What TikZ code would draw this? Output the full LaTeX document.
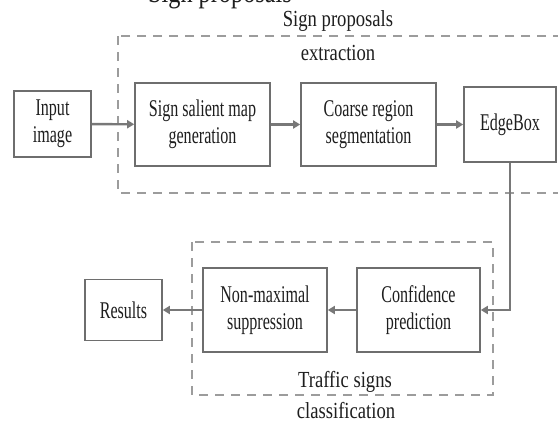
\documentclass[tikz,border=0pt]{standalone}
\usepackage{fontspec}
\setmainfont{Liberation Serif}
\newfontfamily\boxfont{Liberation Serif}[FakeStretch=0.67]
\newfontfamily\titlefont{Liberation Serif}[FakeStretch=0.81]
\usetikzlibrary{arrows.meta}
\definecolor{boxline}{HTML}{6E6E6E}
\definecolor{arrowc}{HTML}{787878}
\definecolor{dashc}{HTML}{9C9C9C}
\definecolor{txt}{HTML}{1E1E1E}
\begin{document}
\begin{tikzpicture}[x=1pt,y=-1pt,
  stepbox/.style={draw=boxline, line width=1.6pt, inner sep=0pt, align=center,
    font=\boxfont\fontsize{24}{27}\selectfont, text=txt},
  flow/.style={draw=arrowc, line width=2.4pt, -{Triangle[length=7pt,width=8pt]}},
  group/.style={draw=dashc, line width=2.2pt, dash pattern=on 9pt off 7pt},
  title/.style={font=\titlefont\fontsize{23}{26}\selectfont, text=txt, inner sep=0pt, anchor=base}]
\clip (0,0) rectangle (558,423);
\fill[white] (0,0) rectangle (558,423);

% group frames
\draw[group] (118,36) rectangle (575,193);
\draw[group] (192,242) rectangle (493,395);

% ghost title at top edge
\node[title, font=\titlefont\fontsize{30}{32}\selectfont] (ghost) at (220,2.5) {Sign proposals};

% titles
\node[title] (t1a) at (338,27) {Sign proposals};
\node[title] (t1b) at (338,60) {extraction};
\node[title] (t2a) at (345,387) {Traffic signs};
\node[title] (t2b) at (346,418) {classification};

% boxes
\node[stepbox, minimum width=77pt, minimum height=66pt] (in) at (52.5,124) {Input\\image};
\node[stepbox, minimum width=135pt, minimum height=83pt] (sal) at (202.5,124.5) {Sign salient map\\generation};
\node[stepbox, minimum width=135pt, minimum height=83pt] (seg) at (368.5,124.5) {Coarse region\\segmentation};
\node[stepbox, minimum width=92pt, minimum height=75pt] (eb) at (510,124.5) {EdgeBox};
\node[stepbox, minimum width=123pt, minimum height=84pt] (conf) at (418.5,310) {Confidence\\prediction};
\node[stepbox, minimum width=124pt, minimum height=84pt] (nms) at (265,310) {Non-maximal\\suppression};
\node[stepbox, minimum width=77pt, minimum height=61pt] (res) at (123.5,310) {Results};

% connectors
\draw[flow] (in) -- (sal);
\draw[flow] (sal) -- (seg);
\draw[flow] (seg) -- (seg -| eb.west);
\draw[flow] (eb.south) |- (conf.east);
\draw[flow] (conf) -- (nms);
\draw[flow] (nms) -- (res);
\end{tikzpicture}
\end{document}
